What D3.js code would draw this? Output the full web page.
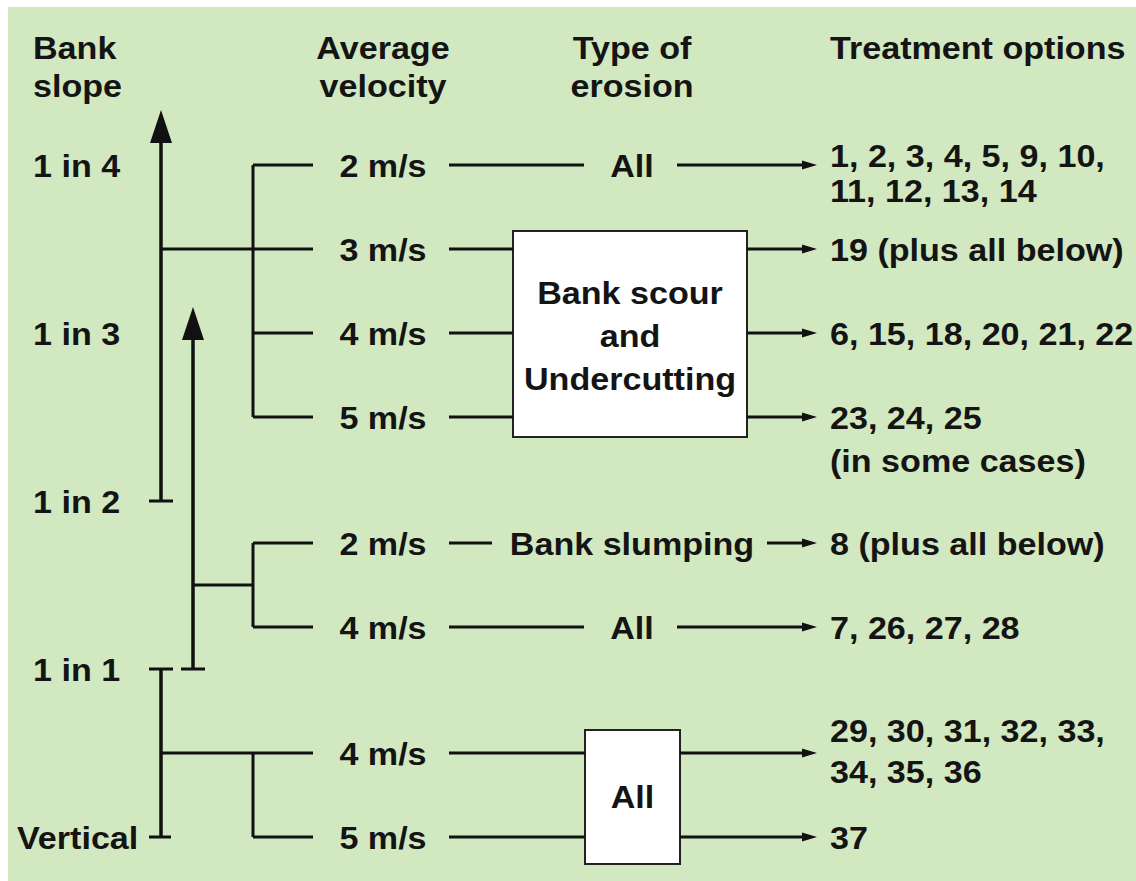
<!DOCTYPE html>
<html>
<head>
<meta charset="utf-8">
<script src="https://cdn.jsdelivr.net/npm/d3@7"></script>
<style>
  body { margin: 0; background: #fff; }
  text { font-family: "Liberation Sans", Arial, sans-serif; font-weight: bold; font-size: 31px; fill: #141414; }
</style>
</head>
<body>
<div id="chart"></div>
<script>
// slope classes on the left, levels in row units
var slopes = ["1 in 4", "1 in 3", "1 in 2", "1 in 1", "Vertical"];
var slopeLevels = [0, 2, 4, 6, 8];

// one entry per velocity branch
var velocities = ["2 m/s", "3 m/s", "4 m/s", "5 m/s", "2 m/s", "4 m/s", "4 m/s", "5 m/s"];
var rowLevels = [0, 1, 2, 3, 4.5, 5.5, 7, 8];
var erosion = ["All", "Bank scour and Undercutting", "Bank scour and Undercutting", "Bank scour and Undercutting",
               "Bank slumping", "All", "All", "All"];
var treatments = [
    ["1, 2, 3, 4, 5, 9, 10,", "11, 12, 13, 14"],
    ["19 (plus all below)"],
    ["6, 15, 18, 20, 21, 22"],
    ["23, 24, 25", "(in some cases)"],
    ["8 (plus all below)"],
    ["7, 26, 27, 28"],
    ["29, 30, 31, 32, 33,", "34, 35, 36"],
    ["37"]
];
var headers = [["Bank", "slope"], ["Average", "velocity"], ["Type of", "erosion"], ["Treatment options"]];

var width = 1136, height = 881;
var sx = 1.1;   // text is drawn a bit wide

var svg = d3.select("#chart").append("svg")
    .attr("width", width)
    .attr("height", height);

svg.append("rect")
    .attr("x", 8).attr("y", 7)
    .attr("width", width - 8).attr("height", height - 7)
    .attr("fill", "#d2e8c0");

var y = d3.scaleLinear().domain([0, 8]).range([165, 837]);

// columns
var col = {
    slopeText: 33, arrowA: 161, arrowB: 193, bracket: 253, branchEnd: 313,
    velText: 383, velLineStart: 449, erosionText: 632, tip: 817, treatText: 830
};

var ink = "#111";

function label(x, yy, str, anchor) {
    return svg.append("text")
        .attr("transform", "translate(" + x + "," + yy + ") scale(" + sx + ",1)")
        .attr("text-anchor", anchor || "start")
        .attr("dy", "0.35em")
        .text(str);
}

function line(x1, y1, x2, y2, w) {
    svg.append("line")
        .attr("x1", x1).attr("y1", y1).attr("x2", x2).attr("y2", y2)
        .attr("stroke", ink).attr("stroke-width", w || 3);
}

function arrowRight(x1, x2, yy) {
    line(x1, yy, x2 - 10, yy, 3);
    svg.append("path")
        .attr("d", "M" + x2 + "," + yy + "L" + (x2 - 15) + "," + (yy - 4.5) + "L" + (x2 - 15) + "," + (yy + 4.5) + "Z")
        .attr("fill", ink);
}

function arrowUp(x, yBottom, yTip) {
    line(x, yBottom, x, yTip + 20, 3.5);
    svg.append("path")
        .attr("d", "M" + x + "," + yTip + "L" + (x - 11) + "," + (yTip + 33) + "L" + (x + 11) + "," + (yTip + 33) + "Z")
        .attr("fill", ink);
    line(x - 12, yBottom, x + 12, yBottom, 3);
}

// headers
var headerX = [col.slopeText, col.velText, col.erosionText, col.treatText];
var headerAnchor = ["start", "middle", "middle", "start"];
headers.forEach(function(h, i) {
    h.forEach(function(t, j) {
        svg.append("text")
            .attr("transform", "translate(" + headerX[i] + "," + (59 + j * 38) + ") scale(" + sx + ",1)")
            .attr("text-anchor", headerAnchor[i])
            .text(t);
    });
});

// slope labels ("Vertical" sits further left, clear of its tick)
slopes.forEach(function(s, i) {
    var x = s === "Vertical" ? 17 : col.slopeText;
    label(x, y(slopeLevels[i]) + 1, s, "start");
});

// arrow from 1 in 2 up past 1 in 4
arrowUp(col.arrowA, y(4), 110);
// arrow from 1 in 1 up past 1 in 3
arrowUp(col.arrowB, y(6), 307);
// bottom range 1 in 1 to vertical
line(col.arrowA, y(6), col.arrowA, y(8), 3.5);
line(col.arrowA - 12, y(6), col.arrowA + 12, y(6), 3);
line(col.arrowA - 12, y(8), col.arrowA + 10, y(8), 3);

// group 1: rows 0-3
line(col.arrowA, y(1), col.branchEnd, y(1));
line(col.bracket, y(0), col.bracket, y(3));
[0, 2, 3].forEach(function(i) { line(col.bracket, y(rowLevels[i]), col.branchEnd, y(rowLevels[i])); });

// group 2: rows 4.5-5.5
line(col.arrowB, y(5), col.bracket, y(5));
line(col.bracket, y(4.5), col.bracket, y(5.5));
[4, 5].forEach(function(i) { line(col.bracket, y(rowLevels[i]), col.branchEnd, y(rowLevels[i])); });

// group 3: rows 7-8
line(col.arrowA, y(7), col.branchEnd, y(7));
line(col.bracket, y(7), col.bracket, y(8));
line(col.bracket, y(8), col.branchEnd, y(8));

// velocity labels
velocities.forEach(function(v, i) {
    label(col.velText, y(rowLevels[i]) + 1, v, "middle");
});

// erosion boxes
var box1 = { x0: 513, x1: 747, y0: y(1) - 18, y1: y(3) + 20 };
var box2 = { x0: 585, x1: 680, y0: y(7) - 23, y1: y(8) + 27 };
[box1, box2].forEach(function(b) {
    svg.append("rect")
        .attr("x", b.x0).attr("y", b.y0)
        .attr("width", b.x1 - b.x0).attr("height", b.y1 - b.y0)
        .attr("fill", "#fff").attr("stroke", "#222").attr("stroke-width", 2);
});
var boxLines = erosion[1].replace("scour and", "scour|and|").split("|").map(function(s) { return s.trim(); });
boxLines.forEach(function(t, j) {
    label((box1.x0 + box1.x1) / 2, y(2) - 40 + j * 43, t, "middle");
});
label((box2.x0 + box2.x1) / 2, (box2.y0 + box2.y1) / 2, erosion[6], "middle");

// connectors through the erosion column
rowLevels.forEach(function(k, i) {
    var yy = y(k);
    if (i >= 1 && i <= 3) {
        line(col.velLineStart, yy, box1.x0, yy);
        arrowRight(box1.x1, col.tip, yy);
    } else if (i >= 6) {
        line(col.velLineStart, yy, box2.x0, yy);
        arrowRight(box2.x1, col.tip, yy);
    } else if (erosion[i] === "Bank slumping") {
        line(col.velLineStart, yy, 492, yy);
        label(col.erosionText, yy + 1, erosion[i], "middle");
        arrowRight(767, col.tip, yy);
    } else {
        line(col.velLineStart, yy, 584, yy);
        label(col.erosionText, yy + 1, erosion[i], "middle");
        arrowRight(677, col.tip, yy);
    }
});

// treatment options text
var treatOffsets = [[-10, 25], [0], [0], [0, 43], [0], [0], [-23, 18], [0]];
treatments.forEach(function(lines, i) {
    lines.forEach(function(t, j) {
        label(col.treatText, y(rowLevels[i]) + treatOffsets[i][j] + 1, t, "start");
    });
});
</script>
</body>
</html>
